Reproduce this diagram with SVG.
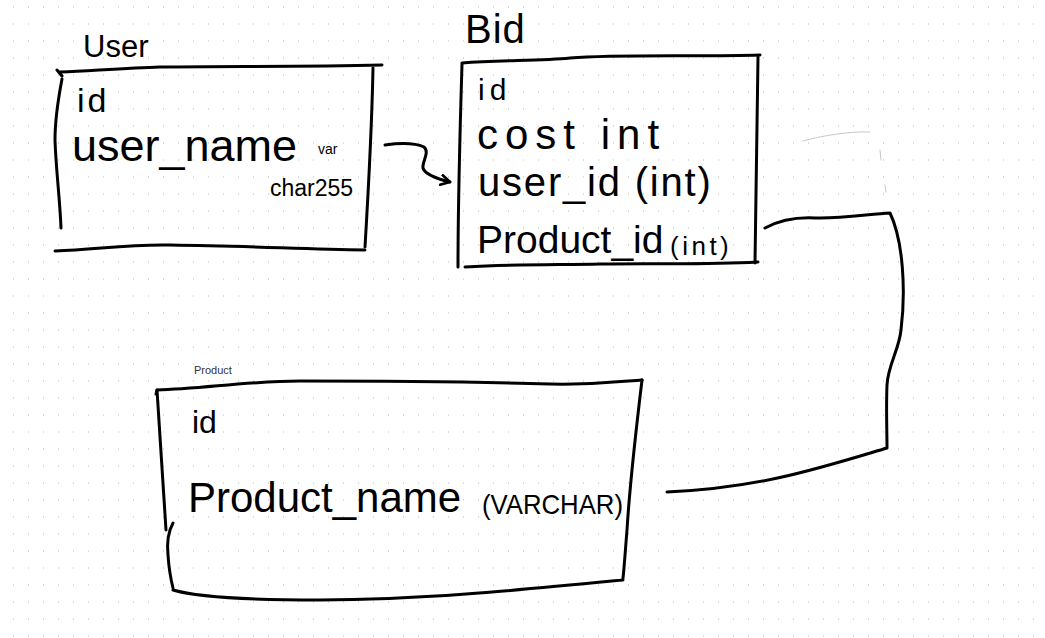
<svg xmlns="http://www.w3.org/2000/svg" width="1045" height="638" viewBox="0 0 1045 638">
  <defs>
    <pattern id="dots" patternUnits="userSpaceOnUse" x="13" y="6" width="15" height="17">
      <rect x="0" y="0" width="1" height="2" fill="#dcdcdc"/>
    </pattern>
    <marker id="openArrow" viewBox="0 0 12 12" refX="10" refY="6" markerWidth="12" markerHeight="12" markerUnits="userSpaceOnUse" orient="auto">
      <path d="M1,1 L10,6 L1,11" fill="none" stroke="#000" stroke-width="2.6" stroke-linecap="round" stroke-linejoin="round"/>
    </marker>
  </defs>
  <style>
    .ink { fill: none; stroke: #000; stroke-width: 3; stroke-linecap: round; stroke-linejoin: round; }
    .faint { fill: none; stroke: #c8c8c8; stroke-width: 1; stroke-linecap: round; }
    .hand { font-family: "Liberation Sans", "DejaVu Sans", sans-serif; fill: #000; }
    .label { font-family: "Liberation Sans", Arial, sans-serif; font-size: 11px; fill: #333333; }
  </style>
  <rect x="0" y="0" width="1045" height="638" fill="#ffffff"/>
  <rect x="0" y="0" width="1045" height="638" fill="url(#dots)"/>

  <g id="node-user">
    <path class="ink" d="M57,70 L62,76 M60,72 C 100,70 130,68 160,67 C 230,66 300,67 382,65"/>
    <path class="ink" d="M62,79 C 58,100 55,120 55,140 C 56,170 60,200 61,228"/>
    <path class="ink" d="M373,68 C 372,120 369,180 365,247"/>
    <path class="ink" d="M55,251 C 100,249 130,244 170,245 C 250,246 300,249 365,250"/>
    <text class="hand" x="83" y="57" font-size="31">User</text>
    <text class="hand" x="77" y="112" font-size="34" letter-spacing="3">id</text>
    <text class="hand" x="72" y="161" font-size="45">user_name</text>
    <text class="hand" x="318" y="154" font-size="14">var</text>
    <text class="hand" x="270" y="196" font-size="23">char255</text>
  </g>

  <g id="node-bid">
    <path class="ink" d="M462,63 C 500,60 540,61 570,58 C 620,54 700,57 760,55"/>
    <path class="ink" d="M462,64 C 460,130 458,200 458,267"/>
    <path class="ink" d="M758,57 C 757,120 756,200 755,263"/>
    <path class="ink" d="M465,267 C 520,264 560,265 600,264 C 660,263 700,265 758,262"/>
    <text class="hand" x="465" y="43" font-size="40" letter-spacing="1">Bid</text>
    <text class="hand" x="478" y="100" font-size="30" letter-spacing="5">id</text>
    <text class="hand" x="477" y="149" font-size="42" letter-spacing="7">cost int</text>
    <text class="hand" x="478" y="196" font-size="40" letter-spacing="1.8">user_id (int)</text>
    <text class="hand" x="477" y="253" font-size="39">Product_id</text>
    <text class="hand" x="670" y="255" font-size="26" letter-spacing="3.5">(int)</text>
  </g>

  <g id="node-product">
    <text class="label" x="194" y="374">Product</text>
    <path class="ink" d="M156,394 L157,390 C 200,389 250,381 300,381 C 400,381 480,382 550,384 C 600,385 625,381 642,380"/>
    <path class="ink" d="M157,390 C 160,440 163,490 166,530"/>
    <path class="ink" d="M173,523 C 168,532 167,545 168,555 C 169,570 171,580 173,588"/>
    <path class="ink" d="M642,380 C 636,430 630,480 627,530 C 625,555 624,570 623,578"/>
    <path class="ink" d="M173,590 C 200,598 260,600 320,600 C 420,600 520,590 623,580"/>
    <text class="hand" x="192" y="433" font-size="32">id</text>
    <text class="hand" x="188" y="512" font-size="42">Product_name</text>
    <text class="hand" x="482" y="514" font-size="28" textLength="141" lengthAdjust="spacingAndGlyphs">(VARCHAR)</text>
  </g>

  <g id="connectors">
    <path class="ink" d="M385,145 C 400,143 415,143 424,147 C 430,152 422,162 423,168 C 425,175 438,179 450,182" marker-end="url(#openArrow)"/>
    <path class="ink" d="M765,228 C 780,220 795,217 815,218 C 840,219 870,214 890,213 C 903,240 906,290 901,330 C 899,350 888,365 887,385 C 886,410 887,430 887,448 C 820,468 760,488 667,492"/>
    <path class="faint" d="M803,141 C 820,136 850,131 870,132 M880,150 L881,160 M885,185 L886,192"/>
  </g>
</svg>
